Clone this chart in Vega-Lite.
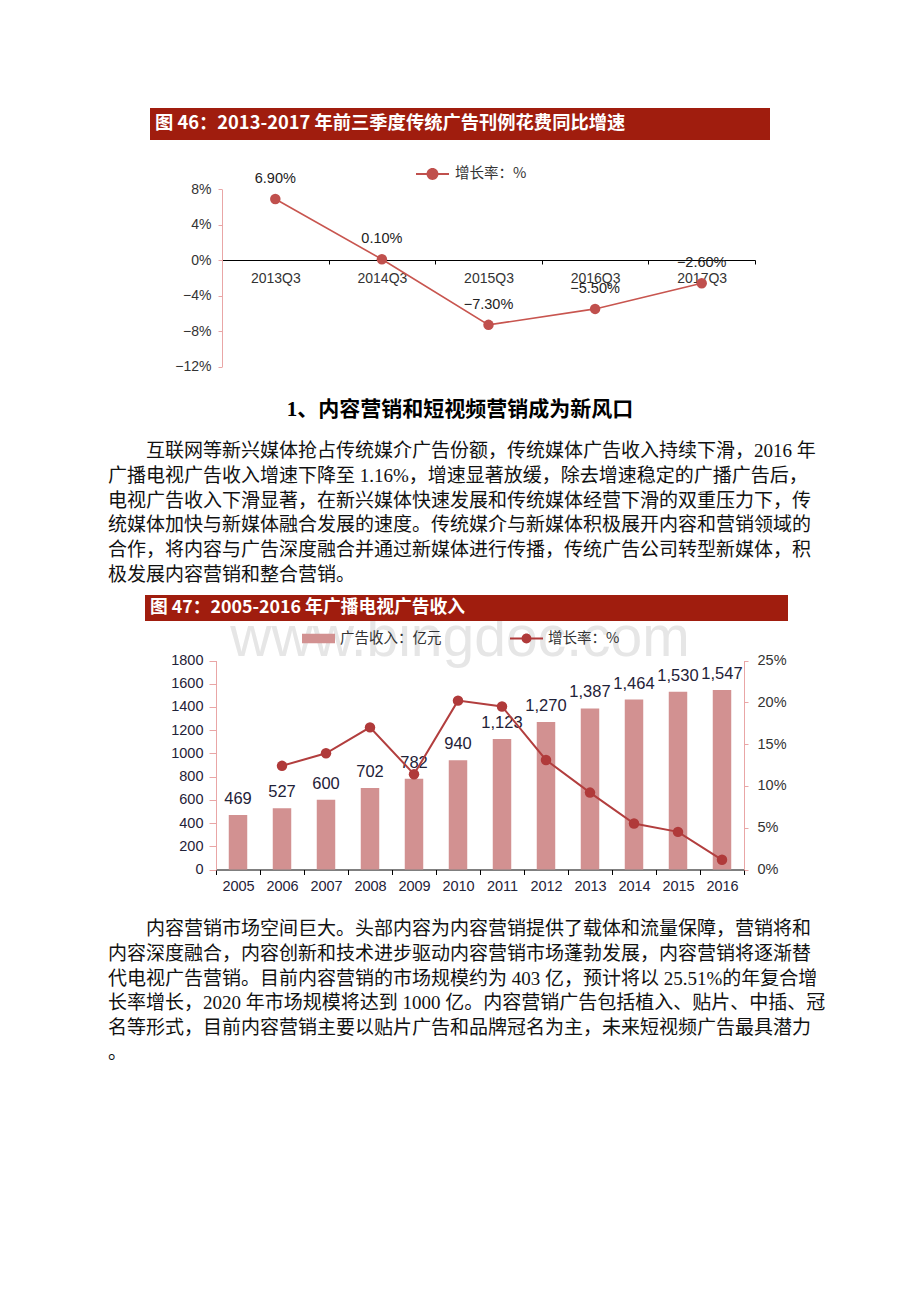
{
  "$schema": "https://vega.github.io/schema/vega-lite/v6.json",
  "background": "white",
  "padding": 0,
  "spacing": 0,
  "bounds": "flush",
  "config": {"view": {"stroke": null}, "axis": {"grid": false, "title": null}},
  "resolve": {"scale": {"color": "independent", "fill": "independent"}, "legend": {"color": "independent", "fill": "independent"}},
  "vconcat": [
    {
      "width": 920, "height": 150,
      "data": {"values": [{"fig": "图 46：2013-2017 年前三季度传统广告刊例花费同比增速"}]},
      "encoding": {
        "x": {"field": "fig", "type": "nominal", "scale": {"type": "band", "range": [150, 770], "paddingInner": 0, "paddingOuter": 0}, "axis": null},
        "y": {"field": "fig", "type": "nominal", "scale": {"type": "band", "range": [108, 140], "paddingInner": 0, "paddingOuter": 0}, "axis": null}
      },
      "layer": [
        {"mark": {"type": "rect", "color": "#A01D0E"}},
        {"mark": {"type": "text", "align": "left", "baseline": "middle", "dx": 5, "color": "white", "font": "Noto Sans CJK SC", "fontSize": 18.3, "fontWeight": "bold"},
         "encoding": {"x": {"field": "fig", "type": "nominal", "bandPosition": 0, "scale": {"type": "band", "range": [150, 770], "paddingInner": 0, "paddingOuter": 0}, "axis": null}, "text": {"field": "fig"}}}
      ]
    },
    {
      "width": 920, "height": 235,
      "data": {"values": [
        {"period": "2013Q3", "growth": 0.069},
        {"period": "2014Q3", "growth": 0.001},
        {"period": "2015Q3", "growth": -0.073},
        {"period": "2016Q3", "growth": -0.055},
        {"period": "2017Q3", "growth": -0.026}
      ]},
      "encoding": {
        "x": {"field": "period", "type": "nominal", "scale": {"type": "band", "range": [222, 755], "paddingInner": 0, "paddingOuter": 0},
              "axis": {"orient": "bottom", "offset": -125, "domainColor": "#000", "tickColor": "#000", "tickSize": 4, "tickBand": "extent", "labelAngle": 0, "labelPadding": 7, "labelFont": "Liberation Sans", "labelFontSize": 14, "labelColor": "#333"}},
        "y": {"field": "growth", "type": "quantitative", "scale": {"domain": [-0.12, 0.08], "range": [216.5, 39.3], "nice": false, "zero": false},
              "axis": {"orient": "left", "offset": -222, "values": [-0.12, -0.08, -0.04, 0, 0.04, 0.08], "format": ".0%", "domainColor": "#E9A6A6", "tickColor": "#E9A6A6", "tickSize": 4, "labelPadding": 7, "labelFont": "Liberation Sans", "labelFontSize": 14, "labelColor": "#333"}}
      },
      "layer": [
        {"mark": {"type": "line", "color": "#C8554F", "strokeWidth": 1.6}},
        {"mark": {"type": "point", "filled": true, "size": 110, "opacity": 1},
         "encoding": {"color": {"datum": "增长率：%", "scale": {"range": ["#C0504D"]},
           "legend": {"orient": "none", "legendX": 416, "legendY": 7.5, "title": null, "padding": 0,
             "symbolType": "M-1,-0.06H1V0.06H-1ZM-0.36,0A0.36,0.36,0,1,1,0.36,0A0.36,0.36,0,1,1,-0.36,0Z",
             "symbolSize": 1089, "symbolStrokeWidth": 0, "labelFont": "Noto Sans CJK SC", "labelFontSize": 14.5, "labelColor": "#333", "labelOffset": 6}}}},
        {"mark": {"type": "text", "dy": -20, "font": "Liberation Sans", "fontSize": 14.5, "color": "#222"},
         "encoding": {"text": {"field": "growth", "type": "quantitative", "format": ".2%"}}}
      ]
    },
    {
      "width": 920, "height": 50,
      "data": {"values": [{"h": "1、内容营销和短视频营销成为新风口"}]},
      "mark": {"type": "text", "font": "Liberation Serif, Noto Sans CJK SC", "fontSize": 21, "fontWeight": "bold", "color": "#000"},
      "encoding": {"text": {"field": "h"}}
    },
    {
      "width": 920, "height": 155,
      "data": {"values": [
        {"para": "p1", "line": 1, "text": "\u200b　　互联网等新兴媒体抢占传统媒介广告份额，传统媒体广告收入持续下滑，2016 年"},
        {"para": "p1", "line": 2, "text": "广播电视广告收入增速下降至 1.16%，增速显著放缓，除去增速稳定的广播广告后，"},
        {"para": "p1", "line": 3, "text": "电视广告收入下滑显著，在新兴媒体快速发展和传统媒体经营下滑的双重压力下，传"},
        {"para": "p1", "line": 4, "text": "统媒体加快与新媒体融合发展的速度。传统媒介与新媒体积极展开内容和营销领域的"},
        {"para": "p1", "line": 5, "text": "合作，将内容与广告深度融合并通过新媒体进行传播，传统广告公司转型新媒体，积"},
        {"para": "p1", "line": 6, "text": "极发展内容营销和整合营销。"}
      ]},
      "mark": {"type": "text", "align": "left", "baseline": "middle", "font": "Liberation Serif, Noto Sans CJK SC", "fontSize": 19, "color": "#111"},
      "encoding": {
        "x": {"field": "para", "type": "nominal", "bandPosition": 0, "scale": {"type": "band", "range": [108, 810], "paddingInner": 0, "paddingOuter": 0}, "axis": null},
        "y": {"field": "line", "type": "ordinal", "scale": {"type": "point", "range": [16, 140], "padding": 0}, "axis": null},
        "text": {"field": "text"}
      }
    },
    {
      "width": 920, "height": 98,
      "layer": [
        {"data": {"values": [{"wm": "www.bingdoc.com"}]},
         "mark": {"type": "text", "font": "Liberation Sans", "fontSize": 57, "color": "#E6E6E6", "baseline": "middle"},
         "encoding": {"text": {"field": "wm"}}},
        {"data": {"values": [{"fig": "图 47：2005-2016 年广播电视广告收入"}]},
         "encoding": {
           "x": {"field": "fig", "type": "nominal", "scale": {"type": "band", "range": [145, 788], "paddingInner": 0, "paddingOuter": 0}, "axis": null},
           "y": {"field": "fig", "type": "nominal", "scale": {"type": "band", "range": [5, 31], "paddingInner": 0, "paddingOuter": 0}, "axis": null}
         },
         "layer": [
           {"mark": {"type": "rect", "color": "#A01D0E"}},
           {"mark": {"type": "text", "align": "left", "baseline": "middle", "dx": 5, "color": "white", "font": "Noto Sans CJK SC", "fontSize": 17.8, "fontWeight": "bold"},
            "encoding": {"x": {"field": "fig", "type": "nominal", "bandPosition": 0, "scale": {"type": "band", "range": [145, 788], "paddingInner": 0, "paddingOuter": 0}, "axis": null}, "text": {"field": "fig"}}}
         ]}
      ]
    },
    {
      "width": 920, "height": 212,
      "data": {"values": [
        {"year": "2005", "revenue": 469, "growth": null},
        {"year": "2006", "revenue": 527, "growth": 0.124},
        {"year": "2007", "revenue": 600, "growth": 0.139},
        {"year": "2008", "revenue": 702, "growth": 0.170},
        {"year": "2009", "revenue": 782, "growth": 0.114},
        {"year": "2010", "revenue": 940, "growth": 0.202},
        {"year": "2011", "revenue": 1123, "growth": 0.195},
        {"year": "2012", "revenue": 1270, "growth": 0.131},
        {"year": "2013", "revenue": 1387, "growth": 0.092},
        {"year": "2014", "revenue": 1464, "growth": 0.055},
        {"year": "2015", "revenue": 1530, "growth": 0.045},
        {"year": "2016", "revenue": 1547, "growth": 0.0116}
      ]},
      "encoding": {
        "x": {"field": "year", "type": "nominal", "scale": {"type": "band", "range": [216, 744], "paddingInner": 0, "paddingOuter": 0},
              "axis": {"orient": "bottom", "offset": -30.5, "domainColor": "#000", "tickColor": "#000", "tickSize": 5, "tickBand": "extent", "labelAngle": 0, "labelPadding": 5, "labelFont": "Liberation Sans", "labelFontSize": 14.5, "labelColor": "#1F2238"}}
      },
      "layer": [
        {
          "encoding": {"y": {"field": "revenue", "type": "quantitative", "scale": {"domain": [0, 1800], "range": [181.5, -27.5], "nice": false},
            "axis": {"orient": "left", "offset": -216, "values": [0, 200, 400, 600, 800, 1000, 1200, 1400, 1600, 1800], "format": "d", "domainColor": "#E9A6A6", "tickColor": "#E9A6A6", "tickSize": 7, "labelPadding": 6, "labelFont": "Liberation Sans", "labelFontSize": 14.5, "labelColor": "#1F2238"}}},
          "layer": [
            {"mark": {"type": "bar", "width": {"band": 0.42}},
             "encoding": {"color": {"datum": "广告收入：亿元", "scale": {"range": ["#D29191"]},
               "legend": {"orient": "none", "legendX": 302, "legendY": -66, "title": null, "padding": 0,
                 "symbolType": "M-1,-0.29H1V0.29H-1Z", "symbolSize": 1089, "symbolStrokeWidth": 0,
                 "labelFont": "Noto Sans CJK SC", "labelFontSize": 14.5, "labelColor": "#333", "labelOffset": 5}}}},
            {"mark": {"type": "text", "dy": -16, "font": "Liberation Sans", "fontSize": 16.5, "color": "#1F2238"},
             "encoding": {"text": {"field": "revenue", "type": "quantitative", "format": ","}}}
          ]
        },
        {
          "encoding": {"y": {"field": "growth", "type": "quantitative", "scale": {"domain": [0, 0.25], "range": [181.5, -27.5], "nice": false},
            "axis": {"orient": "right", "offset": -176, "values": [0, 0.05, 0.1, 0.15, 0.2, 0.25], "format": ".0%", "domainColor": "#E9A6A6", "tickColor": "#E9A6A6", "tickSize": 4, "labelPadding": 9, "labelFont": "Liberation Sans", "labelFontSize": 14.5, "labelColor": "#333"}}},
          "layer": [
            {"mark": {"type": "line", "color": "#B23E3E", "strokeWidth": 2}},
            {"mark": {"type": "point", "filled": true, "size": 110, "opacity": 1},
             "encoding": {"fill": {"datum": "增长率：%", "scale": {"range": ["#B03A3A"]},
               "legend": {"orient": "none", "legendX": 510, "legendY": -66, "title": null, "padding": 0,
                 "symbolType": "M-1,-0.06H1V0.06H-1ZM-0.3,0A0.3,0.3,0,1,1,0.3,0A0.3,0.3,0,1,1,-0.3,0Z",
                 "symbolSize": 1089, "symbolStrokeWidth": 0,
                 "labelFont": "Noto Sans CJK SC", "labelFontSize": 14.5, "labelColor": "#333", "labelOffset": 5}}}}
          ]
        }
      ],
      "resolve": {"scale": {"y": "independent"}}
    },
    {
      "width": 920, "height": 402,
      "data": {"values": [
        {"para": "p2", "line": 1, "text": "\u200b　　内容营销市场空间巨大。头部内容为内容营销提供了载体和流量保障，营销将和"},
        {"para": "p2", "line": 2, "text": "内容深度融合，内容创新和技术进步驱动内容营销市场蓬勃发展，内容营销将逐渐替"},
        {"para": "p2", "line": 3, "text": "代电视广告营销。目前内容营销的市场规模约为 403 亿，预计将以 25.51%的年复合增"},
        {"para": "p2", "line": 4, "text": "长率增长，2020 年市场规模将达到 1000 亿。内容营销广告包括植入、贴片、中插、冠"},
        {"para": "p2", "line": 5, "text": "名等形式，目前内容营销主要以贴片广告和品牌冠名为主，未来短视频广告最具潜力"},
        {"para": "p2", "line": 6, "text": "。"}
      ]},
      "mark": {"type": "text", "align": "left", "baseline": "middle", "font": "Liberation Serif, Noto Sans CJK SC", "fontSize": 19, "color": "#111"},
      "encoding": {
        "x": {"field": "para", "type": "nominal", "bandPosition": 0, "scale": {"type": "band", "range": [108, 810], "paddingInner": 0, "paddingOuter": 0}, "axis": null},
        "y": {"field": "line", "type": "ordinal", "scale": {"type": "point", "range": [29, 153], "padding": 0}, "axis": null},
        "text": {"field": "text"}
      }
    }
  ]
}
